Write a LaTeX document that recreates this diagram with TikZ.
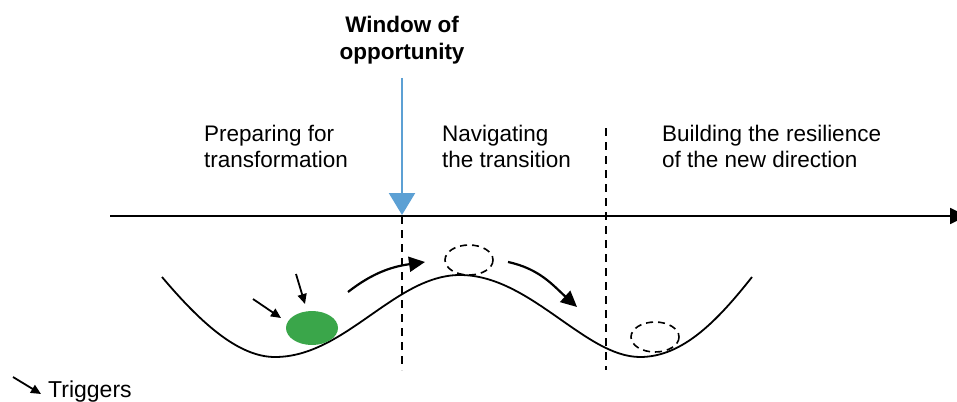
\documentclass[tikz,border=0pt]{standalone}
\usepackage{fontspec}
\setmainfont{Liberation Sans}
\usetikzlibrary{arrows.meta,shapes.geometric}
\definecolor{winblue}{RGB}{92,160,212}
\definecolor{ballgreen}{RGB}{58,166,74}
\begin{document}
\begin{tikzpicture}[x=1pt,y=-1pt,
  lbl/.style={font=\fontsize{22.5}{25.5}\selectfont, align=left, anchor=base west, inner sep=0pt},
  ttl/.style={font=\fontsize{22.5}{27}\selectfont\bfseries, align=center, anchor=base, inner sep=0pt},
  axisline/.style={line width=1.8pt, -{Triangle[length=17pt,width=16pt]}},
  phase/.style={line width=1.6pt, dash pattern=on 8pt off 6pt},
  trig/.style={line width=1.8pt, -{Triangle[length=10pt,width=9pt]}},
  move/.style={line width=2.2pt, -{Triangle[length=16pt,width=15pt]}},
  ghost/.style={line width=1.6pt, dash pattern=on 7pt off 5pt},
]
\useasboundingbox (0,0) rectangle (957,401);
\clip (0,0) rectangle (957,401);

% axis
\coordinate (axs) at (110,216);
\coordinate (axe) at (967,216);
\draw[axisline] (axs) -- (axe);

% window of opportunity
\node[ttl] (win) at (402,60) {Window of\\opportunity};
\coordinate (wtop) at (402,78);
\coordinate (wtip) at (402,215);
\draw[winblue, line width=2.3pt, -{Triangle[length=22pt,width=26pt]}] (wtop) -- (wtip);

% labels
\node[lbl] (prep) at (204,167) {Preparing for\\transformation};
\node[lbl] (nav) at (442,167) {Navigating\\the transition};
\node[lbl] (build) at (662,167) {Building the resilience\\of the new direction};

% phase separators
\coordinate (d1a) at (402,216);
\coordinate (d1b) at (402,370);
\coordinate (d2a) at (606,128);
\coordinate (d2b) at (606,370);
\draw[phase] (d1a) -- (d1b);
\draw[phase] (d2a) -- (d2b);

% landscape curve
\draw[line width=1.8pt]
  (162,277) .. controls (200,322) and (238,357) .. (275,357)
  .. controls (345,357) and (395,275) .. (460,275)
  .. controls (530,275) and (585,357) .. (640,357)
  .. controls (683,357) and (718,320) .. (752,277);

% ball and ghosts
\node[draw=none, fill=ballgreen, ellipse, minimum width=52pt, minimum height=34pt, inner sep=0pt] (ball) at (312,328) {};
\draw[ghost] (469,260) ellipse [x radius=24, y radius=15];
\draw[ghost] (655,337) ellipse [x radius=24, y radius=15];

% triggers
\coordinate (t1s) at (253,299);
\coordinate (t1e) at (281,318);
\coordinate (t2s) at (296,274);
\coordinate (t2e) at (305,304);
\draw[trig] (t1s) -- (t1e);
\draw[trig] (t2s) -- (t2e);

% movement arrows
\coordinate (m1s) at (348,292);
\coordinate (m1e) at (425,262);
\draw[move] (m1s) to[out=38, in=188] (m1e);
\coordinate (m2s) at (508,262);
\coordinate (m2e) at (577,307);
\draw[move] (m2s) to[out=-12, in=138] (m2e);

% legend
\coordinate (ls) at (13,377);
\coordinate (le) at (41,394);
\draw[trig] (ls) -- (le);
\node[lbl, font=\fontsize{23}{26}\selectfont] (legend) at (48,397) {Triggers};
\end{tikzpicture}
\end{document}
